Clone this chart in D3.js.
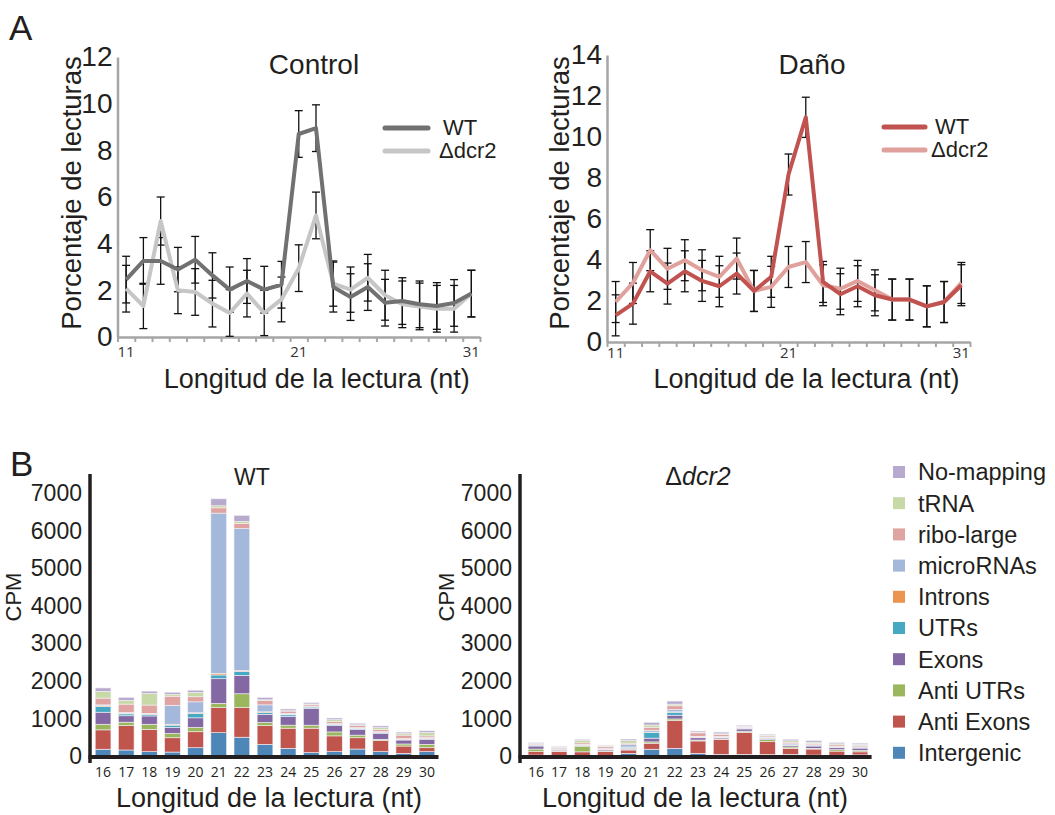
<!DOCTYPE html>
<html lang="es">
<head>
  <meta charset="UTF-8">
  <title>Longitud de lecturas</title>
  <style>
    body { margin: 0; background: #fff; }
    svg { display: block; font-family: 'Liberation Sans', Arial, sans-serif; }
    .tick-num { font-family: 'Open Sans', sans-serif; }
  </style>
</head>
<body>
<div id="chart"></div>
<script src="https://d3js.org/d3.v7.min.js"></script>
<script>
  // ---- datos panel A ----
  let lengthsA = [11, 12, 13, 14, 15, 16, 17, 18, 19, 20, 21, 22, 23, 24, 25, 26, 27, 28, 29, 30, 31]
  let lengthLabelsA = [11, 21, 31]

  let ctrlWT = [2.46, 3.26, 3.26, 2.89, 3.31, 2.64, 2.03, 2.4, 2.03, 2.24, 8.7, 8.95, 2.14, 1.71, 2.14, 1.47, 1.54, 1.4, 1.33, 1.46, 1.86]
  let ctrlWTErr = [1.0, 1.0, 1.0, 0.95, 1.0, 0.97, 0.97, 0.96, 1.0, 1.0, 1.0, 1.0, 1.07, 1.0, 1.0, 1.0, 1.0, 1.0, 1.0, 1.0, 1.0]
  let ctrlDcr = [2.07, 1.33, 4.97, 2.0, 1.93, 1.43, 1.03, 1.86, 1.03, 1.61, 2.95, 5.21, 2.29, 2.03, 2.54, 1.79, 1.4, 1.31, 1.21, 1.21, 1.86]
  let ctrlDcrErr = [1.0, 0.97, 1.03, 1.0, 1.0, 1.0, 1.0, 1.0, 0.97, 0.96, 1.0, 1.0, 0.97, 0.97, 1.0, 1.07, 1.0, 1.0, 1.0, 1.0, 1.0]

  let danoWT = [1.3, 1.87, 3.45, 2.85, 3.45, 2.98, 2.72, 3.34, 2.49, 3.18, 8.17, 10.96, 2.93, 2.33, 2.72, 2.28, 2.07, 2.07, 1.74, 1.95, 2.77]
  let danoWTErr = [1.0, 1.0, 1.0, 1.0, 1.0, 1.0, 1.0, 1.0, 1.0, 1.0, 1.0, 0.98, 1.0, 1.0, 1.0, 1.0, 1.0, 1.0, 1.0, 1.0, 1.0]
  let danoDcr = [1.95, 2.88, 4.48, 3.57, 3.99, 3.5, 3.18, 4.07, 2.49, 2.69, 3.66, 3.9, 2.77, 2.6, 2.98, 2.52, 2.07, 2.07, 1.74, 1.95, 2.88]
  let danoDcrErr = [1.0, 1.0, 1.0, 1.0, 1.0, 1.0, 1.0, 1.0, 1.0, 1.0, 1.0, 1.0, 1.0, 1.0, 1.0, 1.0, 1.0, 1.0, 1.0, 1.0, 1.0]

  // ---- datos panel B ----
  let lengthsB = [16, 17, 18, 19, 20, 21, 22, 23, 24, 25, 26, 27, 28, 29, 30]
  let cpmTicks = [0, 1000, 2000, 3000, 4000, 5000, 6000, 7000]
  // orden de abajo hacia arriba
  let classes = ['Intergenic', 'Anti Exons', 'Anti UTRs', 'Exons', 'UTRs', 'Introns', 'microRNAs', 'ribo-large', 'tRNA', 'No-mapping']
  let classColors = ['#4f86b8', '#c0554e', '#9bb75e', '#8468a3', '#46a8c2', '#eb9550', '#a3b8da', '#dfa3a1', '#c8d9a8', '#b8a9cf']

  let wtIntergenic = [180, 160, 115, 105, 220, 620, 500, 310, 205, 90, 115, 185, 115, 70, 115]
  let wtAntiExons = [515, 650, 595, 380, 425, 665, 790, 500, 535, 650, 420, 300, 295, 195, 105]
  let wtAntiUTRs = [150, 90, 135, 115, 115, 115, 365, 80, 80, 80, 105, 70, 35, 55, 90]
  let wtExons = [320, 170, 220, 160, 255, 655, 490, 220, 230, 445, 170, 150, 160, 105, 135]
  let wtUTRs = [150, 50, 45, 60, 115, 100, 105, 45, 45, 35, 25, 20, 25, 20, 25]
  let wtIntrons = [25, 20, 10, 25, 20, 45, 25, 20, 15, 15, 10, 10, 10, 10, 10]
  let wtMicroRNAs = [20, 20, 15, 505, 290, 4260, 3775, 185, 25, 15, 20, 20, 10, 10, 10]
  let wtRibo = [180, 220, 220, 240, 135, 140, 135, 115, 60, 45, 55, 55, 60, 90, 45]
  let wtTRNA = [180, 100, 310, 50, 115, 55, 55, 20, 10, 10, 45, 20, 45, 40, 90]
  let wtNoMap = [90, 80, 60, 55, 60, 185, 160, 60, 45, 35, 45, 40, 45, 40, 45]

  let dcrIntergenic = [25, 15, 15, 15, 70, 180, 205, 70, 45, 45, 40, 45, 25, 20, 30]
  let dcrAntiExons = [90, 110, 95, 105, 90, 160, 735, 330, 400, 580, 340, 160, 160, 110, 80]
  let dcrAntiUTRs = [70, 10, 150, 15, 15, 35, 45, 25, 10, 35, 60, 35, 20, 40, 40]
  let dcrExons = [80, 25, 20, 30, 30, 100, 100, 60, 30, 60, 30, 40, 60, 50, 60]
  let dcrUTRs = [25, 10, 10, 10, 30, 150, 80, 15, 15, 10, 10, 10, 10, 10, 10]
  let dcrIntrons = [5, 5, 5, 5, 5, 10, 10, 5, 5, 5, 5, 5, 5, 5, 5]
  let dcrMicroRNAs = [10, 20, 15, 25, 60, 50, 60, 20, 15, 15, 20, 30, 20, 20, 20]
  let dcrRibo = [20, 30, 40, 40, 40, 80, 100, 90, 50, 20, 30, 40, 35, 40, 30]
  let dcrTRNA = [10, 20, 70, 25, 70, 60, 45, 20, 20, 20, 20, 40, 35, 30, 35]
  let dcrNoMap = [20, 20, 25, 20, 40, 70, 80, 30, 45, 25, 25, 40, 40, 35, 30]

  let wtByClass = [wtIntergenic, wtAntiExons, wtAntiUTRs, wtExons, wtUTRs, wtIntrons, wtMicroRNAs, wtRibo, wtTRNA, wtNoMap]
  let dcrByClass = [dcrIntergenic, dcrAntiExons, dcrAntiUTRs, dcrExons, dcrUTRs, dcrIntrons, dcrMicroRNAs, dcrRibo, dcrTRNA, dcrNoMap]

  let width = 1055
  let height = 815
  let textColor = '#231f20'
  let svg = d3.select('#chart').append('svg').attr('width', width).attr('height', height)

  // letras de panel
  svg.append('text').attr('x', 9).attr('y', 40).text('A')
    .style('font-size', '35px').attr('fill', textColor)
  svg.append('text').attr('x', 10).attr('y', 476).text('B')
    .style('font-size', '35px').attr('fill', textColor)

  drawLineChart({
    title: 'Control', titleX: 314,
    left: 117.5, right: 480, bottom: 337, top: 57, yMax: 12,
    labelY: 357,
    yTitleX: 71,
    series: [
      { name: 'WT', values: ctrlWT, err: ctrlWTErr, color: '#717171' },
      { name: 'Δdcr2', values: ctrlDcr, err: ctrlDcrErr, color: '#c6c6c6' }
    ],
    legend: { x1: 385, x2: 428, y: 128, textX: 442, dy: 23 }
  })

  drawLineChart({
    title: 'Daño', titleX: 812,
    left: 607, right: 970, bottom: 342, top: 55, yMax: 14,
    labelY: 358,
    yTitleX: 559,
    series: [
      { name: 'WT', values: danoWT, err: danoWTErr, color: '#c0534f' },
      { name: 'Δdcr2', values: danoDcr, err: danoDcrErr, color: '#e0a19d' }
    ],
    legend: { x1: 884, x2: 925, y: 127, textX: 934, dy: 23 }
  })

  drawStackChart({ title: 'WT', italic: false, titleX: 252, axisX: 90, range: [91.5, 438.5], data: wtByClass, cpmX: 13, xTitleX: 269 })
  drawStackChart({ title: 'Δdcr2', italic: true, titleX: 698, axisX: 520, range: [524.4, 871.6], data: dcrByClass, cpmX: 446, xTitleX: 695 })

  drawLegend()

  function drawLineChart (o) {
    let g = svg.append('g')
    let x = d3.scaleBand().domain(lengthsA).range([o.left, o.right])
    let y = d3.scaleLinear().domain([0, o.yMax]).range([o.bottom, o.top])
    let xEdge = d3.scaleLinear().domain([0, lengthsA.length]).range([o.left, o.right])
    let axisColor = '#a6a6a6'

    // eje x con marcas entre categorias
    let gx = g.append('g').attr('transform', 'translate(0,' + o.bottom + ')')
      .call(d3.axisBottom(xEdge).tickValues(d3.range(0, lengthsA.length + 1)).tickSize(5).tickSizeOuter(0).tickFormat(''))
    gx.select('.domain').attr('stroke', axisColor).attr('stroke-width', 2.5)
    gx.selectAll('.tick line').attr('stroke', axisColor).attr('stroke-width', 2)

    g.selectAll('.xlab').data(lengthLabelsA).enter().append('text')
      .attr('class', 'tick-num')
      .attr('x', d => x(d) + x.bandwidth() / 2)
      .attr('y', o.labelY)
      .attr('text-anchor', 'middle')
      .style('font-size', '15px')
      .attr('fill', '#333')
      .text(d => d)

    // eje y
    let gy = g.append('g').attr('transform', 'translate(' + o.left + ',0)')
      .call(d3.axisLeft(y).tickValues(d3.range(0, o.yMax + 1, 2)).tickSize(0).tickPadding(5))
    gy.select('.domain').attr('stroke', axisColor).attr('stroke-width', 2.5)
    gy.selectAll('.tick text').style('font-size', '28px').style('font-family', "'Liberation Sans', Arial, sans-serif").attr('fill', textColor)

    // barras de error
    o.series.forEach(s => {
      let eb = g.append('g').attr('stroke', '#111').attr('stroke-width', 1.3)
      s.values.forEach((v, i) => {
        let cx = x(lengthsA[i]) + x.bandwidth() / 2
        let y0 = y(v - s.err[i])
        let y1 = y(v + s.err[i])
        eb.append('line').attr('x1', cx).attr('x2', cx).attr('y1', y0).attr('y2', y1)
        eb.append('line').attr('x1', cx - 4).attr('x2', cx + 4).attr('y1', y0).attr('y2', y0)
        eb.append('line').attr('x1', cx - 4).attr('x2', cx + 4).attr('y1', y1).attr('y2', y1)
      })
    })

    // lineas
    let line = d3.line()
      .x((d, i) => x(lengthsA[i]) + x.bandwidth() / 2)
      .y(d => y(d))
    o.series.slice().reverse().forEach(s => {
      g.append('path').datum(s.values)
        .attr('d', line)
        .attr('fill', 'none')
        .attr('stroke', s.color)
        .attr('stroke-width', 4)
        .attr('stroke-linejoin', 'round')
    })

    // leyenda
    o.series.forEach((s, i) => {
      let ly = o.legend.y + i * o.legend.dy
      g.append('line').attr('x1', o.legend.x1).attr('x2', o.legend.x2).attr('y1', ly).attr('y2', ly)
        .attr('stroke', s.color).attr('stroke-width', 5).attr('stroke-linecap', 'round')
      g.append('text').attr('x', o.legend.textX + (i === 0 ? 1 : -3)).attr('y', ly + 7)
        .style('font-size', '22px').attr('fill', textColor).text(s.name)
    })

    // titulos
    g.append('text').attr('x', o.titleX).attr('y', 74).attr('text-anchor', 'middle')
      .style('font-size', '28px').attr('fill', textColor).text(o.title)
    g.append('text').attr('transform', 'translate(' + (o.yTitleX + 10) + ',' + 193 + ') rotate(-90)')
      .attr('text-anchor', 'middle').style('font-size', '27.5px').attr('fill', textColor)
      .text('Porcentaje de lecturas')
    g.append('text').attr('x', (o.left + o.right) / 2 + 18).attr('y', 388).attr('text-anchor', 'middle')
      .style('font-size', '27px').attr('fill', textColor).text('Longitud de la lectura (nt)')
  }

  function drawStackChart (o) {
    let g = svg.append('g')
    let zero = 756
    let x = d3.scaleBand().domain(lengthsB).range(o.range).paddingInner(0.32).paddingOuter(0.16)
    let y = d3.scaleLinear().domain([0, 7500]).range([zero, zero - 7.5 * 37.6])

    let rows = lengthsB.map((len, j) => {
      let r = { len: len }
      classes.forEach((c, k) => { r[c] = o.data[k][j] })
      return r
    })
    let stacked = d3.stack().keys(classes)(rows)

    g.selectAll('.layer').data(stacked).enter().append('g')
      .attr('fill', (d, i) => classColors[i])
      .selectAll('rect').data(d => d).enter().append('rect')
      .attr('x', d => x(d.data.len))
      .attr('width', x.bandwidth())
      .attr('y', d => y(d[1]))
      .attr('height', d => Math.max(0, y(d[0]) - y(d[1])))
      .attr('stroke', '#f4f2f6')
      .attr('stroke-width', 0.6)

    // ejes
    g.append('line').attr('x1', o.axisX).attr('x2', o.axisX).attr('y1', 474).attr('y2', 763)
      .attr('stroke', '#231f20').attr('stroke-width', 3.5)
    g.append('line').attr('x1', o.axisX - 1.5).attr('x2', o.range[1]).attr('y1', zero + 1).attr('y2', zero + 1)
      .attr('stroke', '#231f20').attr('stroke-width', 4)

    g.selectAll('.ylab').data(cpmTicks).enter().append('text')
      .attr('x', o.axisX - 8)
      .attr('y', d => y(d))
      .attr('dy', '0.36em')
      .attr('text-anchor', 'end')
      .style('font-size', '23px')
      .attr('fill', textColor)
      .text(d => d)

    g.selectAll('.xlab').data(lengthsB).enter().append('text')
      .attr('class', 'tick-num')
      .attr('x', d => x(d) + x.bandwidth() / 2)
      .attr('y', 777)
      .attr('text-anchor', 'middle')
      .style('font-size', '14px')
      .attr('fill', textColor)
      .text(d => d)

    let t = g.append('text').attr('x', o.titleX).attr('y', 485).attr('text-anchor', 'middle')
      .attr('fill', textColor)
    if (o.italic) {
      t.style('font-size', '25px')
      t.append('tspan').text('Δ')
      t.append('tspan').style('font-style', 'italic').text('dcr2')
    } else {
      t.style('font-size', '23px').text(o.title)
    }

    g.append('text').attr('transform', 'translate(' + (o.cpmX + 8) + ',597) rotate(-90)')
      .attr('text-anchor', 'middle').style('font-size', '22px').attr('fill', textColor).text('CPM')
    g.append('text').attr('x', o.xTitleX).attr('y', 807).attr('text-anchor', 'middle')
      .style('font-size', '27px').attr('fill', textColor).text('Longitud de la lectura (nt)')
  }

  function drawLegend () {
    let items = classes.slice().reverse()
    let colors = classColors.slice().reverse()
    let g = svg.append('g').attr('transform', 'translate(893,472)')
    items.forEach((c, i) => {
      let ly = i * 31.2
      g.append('rect').attr('x', 0).attr('y', ly - 6).attr('width', 12).attr('height', 12).attr('fill', colors[i])
      g.append('text').attr('x', 25).attr('y', ly).attr('dy', '0.36em')
        .style('font-size', '23.5px').attr('fill', textColor).text(c)
    })
  }
</script>
</body>
</html>
